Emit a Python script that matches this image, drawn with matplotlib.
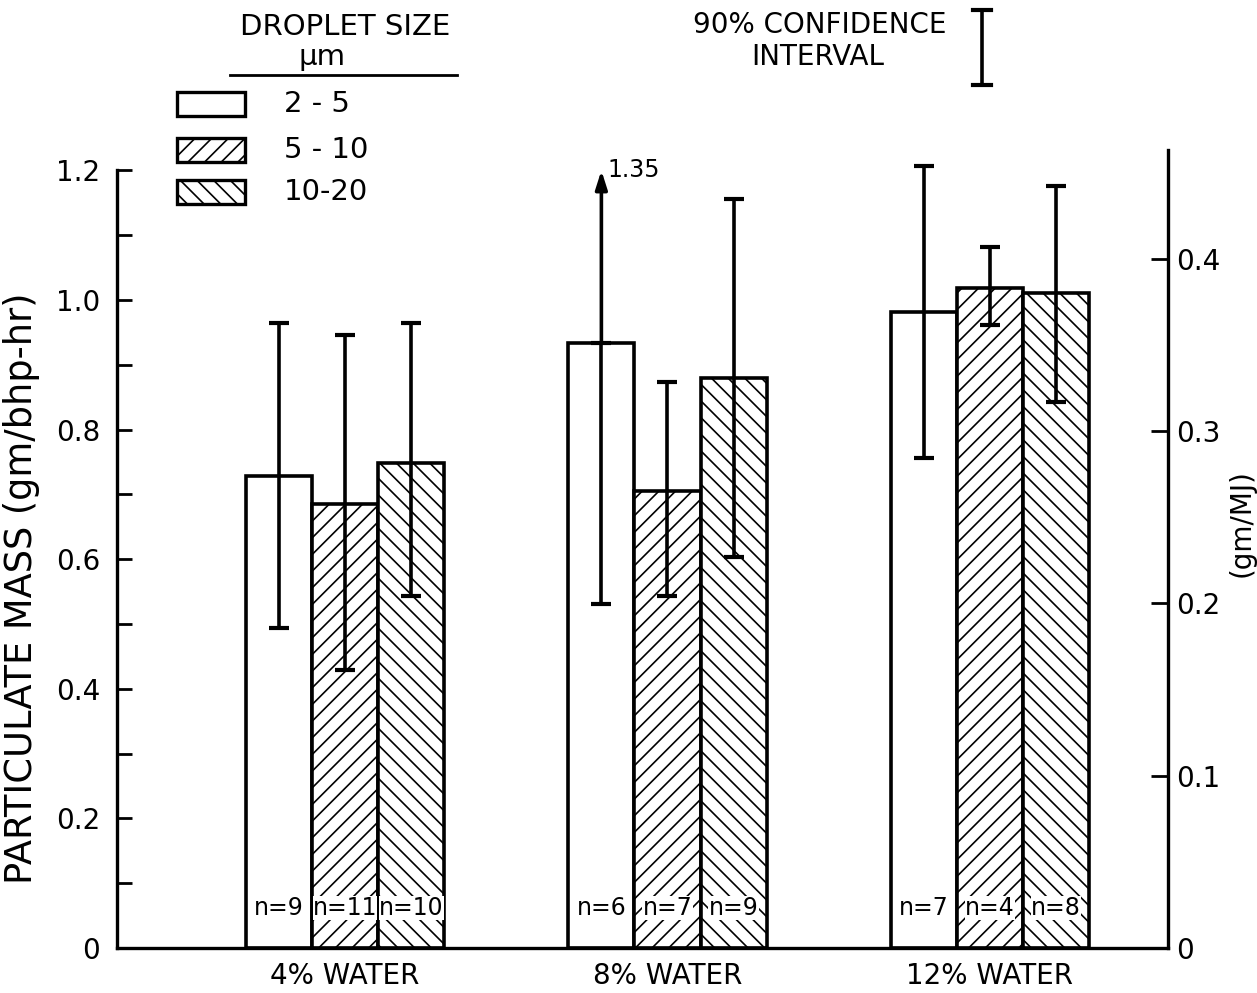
import numpy as np
import matplotlib
matplotlib.use("Agg")
import matplotlib.pyplot as plt
import matplotlib.patches as mpatches
from matplotlib.lines import Line2D

plt.rcParams["font.family"] = ["DejaVu Sans"]
plt.rcParams["hatch.linewidth"] = 1.2

# data (gm/bhp-hr)
groups = ["4% WATER", "8% WATER", "12% WATER"]
sizes = ["2 - 5", "5 - 10", "10-20"]
hatches = ["", "//", "\\\\"]

means = {
    "2 - 5": [0.728, 0.934, 0.981],
    "5 - 10": [0.685, 0.705, 1.018],
    "10-20": [0.748, 0.880, 1.011],
}
lower = {
    "2 - 5": [0.494, 0.531, 0.756],
    "5 - 10": [0.429, 0.543, 0.961],
    "10-20": [0.543, 0.603, 0.843],
}
upper = {
    "2 - 5": [0.965, 1.35, 1.207],
    "5 - 10": [0.946, 0.873, 1.082],
    "10-20": [0.965, 1.156, 1.176],
}
counts = {
    "2 - 5": [9, 6, 7],
    "5 - 10": [11, 7, 4],
    "10-20": [10, 9, 8],
}
mj_factor = 2.66   # gm/bhp-hr per gm/MJ as drawn

W, H = 1257, 993
fig = plt.figure(figsize=(W / 100, H / 100), dpi=100)
ax = fig.add_axes([117 / W, 45 / H, (1168 - 117) / W, (948 - 150) / H])

ymax = 1.2
ylim_top = (948 - 150) / 648
ax.set_ylim(0, ylim_top)
ax.set_xlim(-0.707, 2.552)

x = np.arange(len(groups))
width = 0.205
for i, s in enumerate(sizes):
    xs = x + (i - 1) * width
    m = np.array(means[s])
    lo = np.array(lower[s])
    hi = np.array(upper[s])
    ax.bar(xs, m, width, color="white", edgecolor="black", linewidth=2.6,
           hatch=hatches[i], zorder=2)
    for j in range(len(groups)):
        if hi[j] > ylim_top:
            # off-scale upper limit: arrow to the top of the axis with value
            ax.errorbar(xs[j], m[j], yerr=[[m[j] - lo[j]], [0]], fmt="none",
                        ecolor="black", elinewidth=2.6, capsize=7, capthick=3,
                        zorder=3)
            ax.annotate("", xy=(xs[j], ymax), xytext=(xs[j], m[j]),
                        arrowprops=dict(arrowstyle="-|>,head_length=1.1,head_width=0.35",
                                        color="black", lw=2.6, shrinkA=0, shrinkB=0),
                        zorder=3)
            ax.annotate(f"{hi[j]:.2f}", xy=(xs[j], ymax),
                        xytext=(4, 0), textcoords="offset points",
                        ha="left", va="center", fontsize=17)
        else:
            ax.errorbar(xs[j], m[j], yerr=[[m[j] - lo[j]], [hi[j] - m[j]]],
                        fmt="none", ecolor="black", elinewidth=2.6, capsize=7,
                        capthick=3, zorder=3)
        ax.text(xs[j], 0.062, f"n={counts[s][j]}", ha="center", va="center",
                fontsize=17, zorder=4,
                bbox=dict(facecolor="white", edgecolor="none", pad=0.2))

# left axis
ax.spines["top"].set_visible(False)
ax.spines["right"].set_visible(False)
ax.spines["left"].set_bounds(0, ymax)
ax.spines["left"].set_linewidth(2.4)
ax.spines["bottom"].set_linewidth(2.4)
ax.set_yticks(np.arange(0, 1.21, 0.2))
ax.set_yticklabels(["0", "0.2", "0.4", "0.6", "0.8", "1.0", "1.2"])
ax.set_yticks(np.arange(0.1, 1.2, 0.2), minor=True)
ax.tick_params(axis="y", which="both", direction="in", length=11, width=2,
               pad=12, labelsize=20)
ax.set_xticks(x)
ax.set_xticklabels(groups, fontsize=20)
ax.tick_params(axis="x", length=0, pad=10)
ax.set_ylabel("PARTICULATE MASS (gm/bhp-hr)", fontsize=26.5)
ax.yaxis.set_label_coords(-0.073, 0.451)

# right axis in gm/MJ
ax2 = ax.twinx()
ax2.set_ylim(0, ylim_top / mj_factor)
for sp in ["top", "left", "bottom"]:
    ax2.spines[sp].set_visible(False)
ax2.spines["right"].set_linewidth(2.4)
ax2.set_yticks([0, 0.1, 0.2, 0.3, 0.4])
ax2.set_yticklabels(["0", "0.1", "0.2", "0.3", "0.4"])
ax2.tick_params(axis="y", direction="in", length=12, width=2, pad=6,
                labelsize=20)
ax2.set_ylabel("(gm/MJ)", fontsize=20)
ax2.yaxis.set_label_coords(1.057, 0.533)

# droplet size legend
fig.text(345 / W, 1 - 27 / H, "DROPLET SIZE", ha="center", va="center", fontsize=21)
fig.text(322 / W, 1 - 57 / H, "μm", ha="center", va="center", fontsize=21)
fig.add_artist(Line2D([230 / W, 457 / W], [1 - 75 / H, 1 - 75 / H],
                      color="black", lw=2))
box_y = [104, 150, 192]
for i, s in enumerate(sizes):
    yc = box_y[i]
    fig.add_artist(mpatches.Rectangle((177 / W, 1 - (yc + 12) / H), 68 / W, 24 / H,
                                      transform=fig.transFigure, facecolor="white",
                                      edgecolor="black", lw=2.4, hatch=hatches[i]))
    fig.text(284 / W, 1 - yc / H, s, ha="left", va="center", fontsize=21)

# confidence interval key
fig.text(820 / W, 1 - 25 / H, "90% CONFIDENCE", ha="center", va="center", fontsize=20)
fig.text(818 / W, 1 - 57 / H, "INTERVAL", ha="center", va="center", fontsize=20)
fig.add_artist(Line2D([982 / W, 982 / W], [1 - 10 / H, 1 - 85 / H], color="black", lw=2.6))
for yy in [10, 85]:
    fig.add_artist(Line2D([973 / W, 991 / W], [1 - yy / H, 1 - yy / H],
                          color="black", lw=3))

fig.savefig("out.png", dpi=100)
